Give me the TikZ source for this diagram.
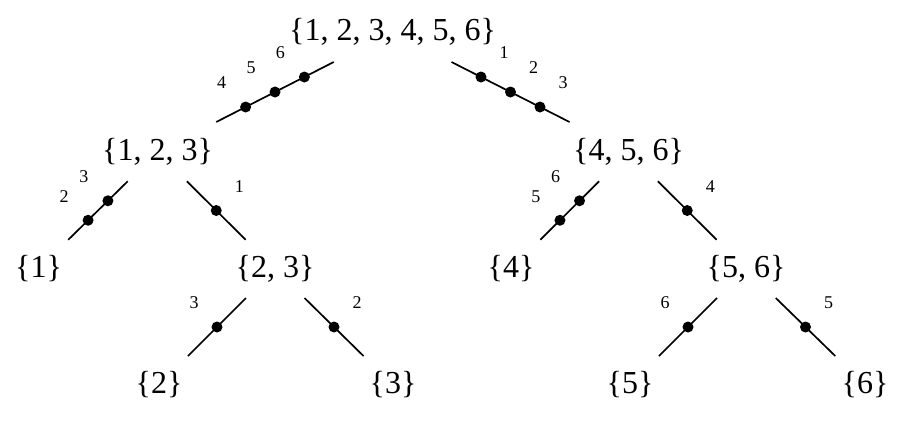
\documentclass[tikz,border=0pt]{standalone}
\usepackage{fontspec}
\setmainfont{Liberation Serif}
\usetikzlibrary{calc}
\tikzset{
  set/.style={inner sep=0pt, font=\fontsize{32}{36}\selectfont},
  lbl/.style={inner sep=0pt, font=\fontsize{18}{21}\selectfont},
  edge/.style={line width=1.7pt},
}
\newcommand{\branch}[5]{%
  \draw[edge] ($(#1)!0.25!(#2)$) -- ($(#1)!0.75!(#2)$);
  \foreach \lab [count=\i] in {#5} {
    \pgfmathsetmacro\tpos{0.25+0.5*\i/(#3+1)}
    \fill ($(#1)!\tpos!(#2)$) circle (5.5pt);
    \path ($(#1)!\tpos!(#2)$) ++(#4,-24) node[lbl] {\lab};
  }
}
\begin{document}
\begin{tikzpicture}[x=1pt,y=-1pt]
\useasboundingbox (0,0) rectangle (906,421);
\node[set] (r)   at (392.5,32) {\{1, 2, 3, 4, 5, 6\}};
\node[set] (a)   at (157.5,152) {\{1, 2, 3\}};
\node[set] (b)   at (628.5,152) {\{4, 5, 6\}};
\node[set] (a1)  at (38.5,269) {\{1\}};
\node[set] (a23) at (275,269) {\{2, 3\}};
\node[set] (b4)  at (511,269) {\{4\}};
\node[set] (b56) at (746,269) {\{5, 6\}};
\node[set] (s2)  at (159,385) {\{2\}};
\node[set] (s3)  at (393,385) {\{3\}};
\node[set] (s5)  at (630,385) {\{5\}};
\node[set] (s6)  at (865,385) {\{6\}};
\branch{r}{a}{3}{-24}{6,5,4}
\branch{r}{b}{3}{23}{1,2,3}
\branch{a}{a1}{2}{-24}{3,2}
\branch{a}{a23}{1}{23}{1}
\branch{b}{b4}{2}{-24}{6,5}
\branch{b}{b56}{1}{23}{4}
\branch{a23}{s2}{1}{-23}{3}
\branch{a23}{s3}{1}{23}{2}
\branch{b56}{s5}{1}{-23}{6}
\branch{b56}{s6}{1}{23}{5}
\end{tikzpicture}
\end{document}
